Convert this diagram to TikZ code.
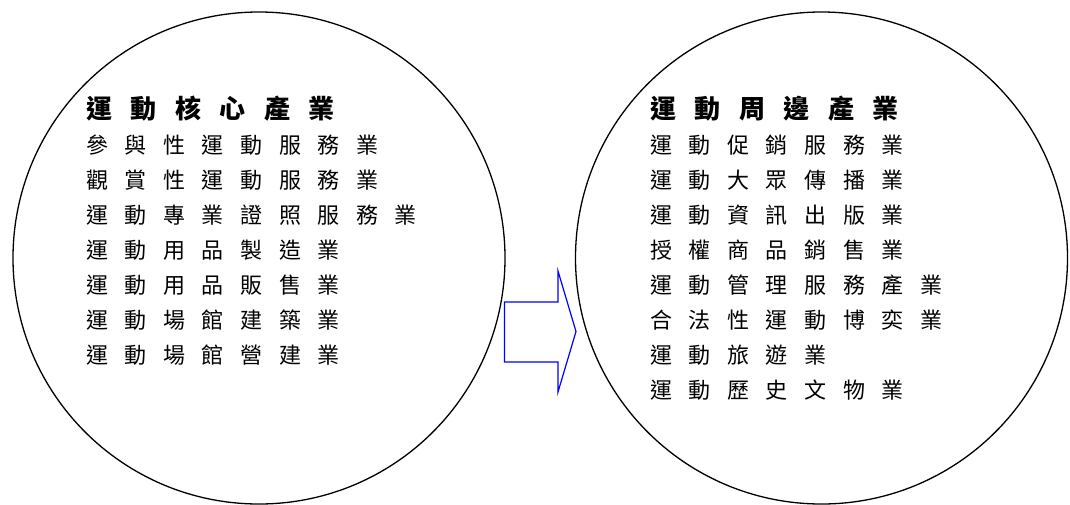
\documentclass[tikz,border=0pt]{standalone}
\usepackage{fontspec}
\newfontfamily\cjk{Noto Sans CJK TC}
\newlength\SpGap
\def\SpEnd{\SpEnd}
\def\SpLoop#1{\ifx#1\SpEnd\else#1\hskip\SpGap\relax\expandafter\SpLoop\fi}
\newcommand\spaced[2]{\setlength\SpGap{#1}\SpLoop#2\SpEnd}
\tikzset{
  ring/.style={circle, draw=black, line width=1.3pt, minimum size=492pt, inner sep=0pt},
  titletext/.style={anchor=west, inner sep=0pt, font=\cjk\bfseries\fontsize{26pt}{26pt}\selectfont},
  itemtext/.style={anchor=west, inner sep=0pt, font=\cjk\fontsize{22pt}{22pt}\selectfont},
  bigarrow/.style={draw=blue, line width=1.2pt, line join=miter}
}
\begin{document}
\begin{tikzpicture}[x=1pt,y=-1pt]
\useasboundingbox (0,0) rectangle (1070,504);
\node[ring] (core) at (259,258) {};
\node[ring] (peri) at (821.5,258) {};

\node[titletext] (t1) at (86,109) {\spaced{18.5pt}{運動核心產業}};
\node[itemtext] (a1) at (86,145.5) {\spaced{16.6pt}{參與性運動服務業}};
\node[itemtext] (a2) at (86,180.5) {\spaced{16.6pt}{觀賞性運動服務業}};
\node[itemtext] (a3) at (86,215.5) {\spaced{16.6pt}{運動專業證照服務業}};
\node[itemtext] (a4) at (86,250.5) {\spaced{16.6pt}{運動用品製造業}};
\node[itemtext] (a5) at (86,285.5) {\spaced{16.6pt}{運動用品販售業}};
\node[itemtext] (a6) at (86,320.5) {\spaced{16.6pt}{運動場館建築業}};
\node[itemtext] (a7) at (86,355.5) {\spaced{16.6pt}{運動場館營建業}};

\node[titletext] (t2) at (650,109) {\spaced{18.5pt}{運動周邊產業}};
\node[itemtext] (b1) at (650,145.5) {\spaced{16.6pt}{運動促銷服務業}};
\node[itemtext] (b2) at (650,180.5) {\spaced{16.6pt}{運動大眾傳播業}};
\node[itemtext] (b3) at (650,215.5) {\spaced{16.6pt}{運動資訊出版業}};
\node[itemtext] (b4) at (650,250.5) {\spaced{16.6pt}{授權商品銷售業}};
\node[itemtext] (b5) at (650,285.5) {\spaced{16.6pt}{運動管理服務產業}};
\node[itemtext] (b6) at (650,320.5) {\spaced{16.6pt}{合法性運動博奕業}};
\node[itemtext] (b7) at (650,355.5) {\spaced{16.6pt}{運動旅遊業}};
\node[itemtext] (b8) at (650,390.5) {\spaced{16.6pt}{運動歷史文物業}};

\draw[bigarrow] (504.5,302) -- (558,302) -- (558,271) -- (576,331.5) -- (558,392) -- (558,362) -- (504.5,362) -- cycle;
\end{tikzpicture}
\end{document}
